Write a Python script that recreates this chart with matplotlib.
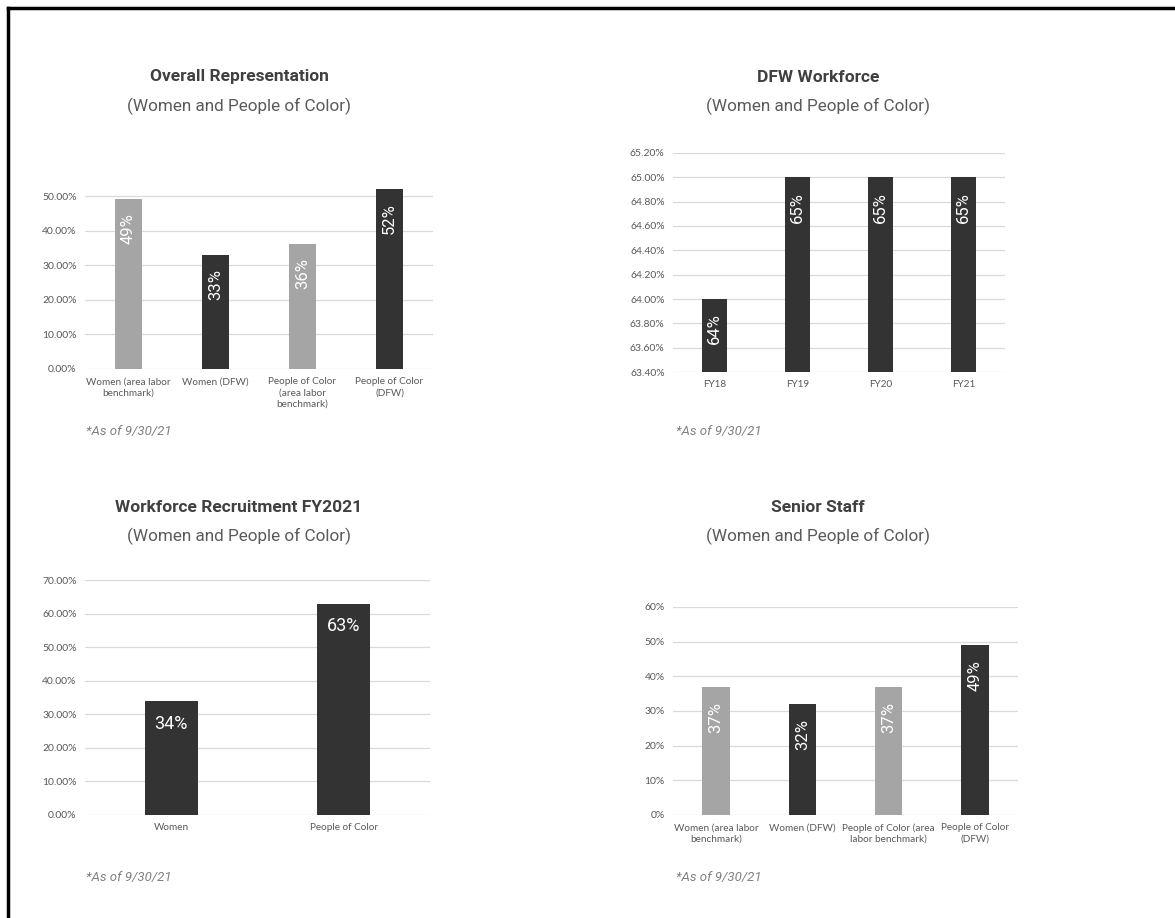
import numpy as np
import matplotlib
matplotlib.use("Agg")
import matplotlib.pyplot as plt
from matplotlib.lines import Line2D

# data
overall_cats = ["Women (area labor\nbenchmark)", "Women (DFW)",
                "People of Color\n(area labor\nbenchmark)", "People of Color\n(DFW)"]
overall_vals = [49, 33, 36, 52]

dfw_cats = ["FY18", "FY19", "FY20", "FY21"]
dfw_vals = [64.0, 65.0, 65.0, 65.0]
dfw_labels = ["64%", "65%", "65%", "65%"]

recruit_cats = ["Women", "People of Color"]
recruit_vals = [34, 63]

senior_cats = ["Women (area labor\nbenchmark)", "Women (DFW)",
               "People of Color (area\nlabor benchmark)", "People of Color\n(DFW)"]
senior_vals = [37, 32, 37, 49]

LIGHT = "#a5a5a5"
DARK = "#333333"
W, H = 1175, 918

fig = plt.figure(figsize=(W / 100, H / 100), dpi=100)
fig.patch.set_facecolor("white")


def px_axes(left, right, top, bottom):
    return fig.add_axes([left / W, 1 - bottom / H, (right - left) / W, (bottom - top) / H])


def style(ax, ticks, fmt):
    for s in ax.spines.values():
        s.set_visible(False)
    ax.set_yticks(ticks)
    ax.set_yticklabels([fmt(t) for t in ticks])
    ax.yaxis.grid(True, color="#d9d9d9", lw=0.9)
    ax.set_axisbelow(True)
    ax.tick_params(length=0, labelcolor="#595959", pad=6)
    ax.tick_params(axis="y", labelsize=7.5)
    ax.tick_params(axis="x", labelsize=7.2)
    for lab in ax.get_yticklabels() + ax.get_xticklabels():
        lab.set_family("Lato")


def titles(cx, y, title):
    fig.text(cx / W, 1 - y / H, title, ha="center", va="center", fontsize=12.5,
             fontweight="bold", color="#404040", family="Roboto")
    fig.text(cx / W, 1 - (y + 29) / H, "(Women and People of Color)", ha="center",
             va="center", fontsize=12.3, color="#5a5a5a", family="Roboto")


def footnote(x, y):
    fig.text(x / W, 1 - y / H, "*As of 9/30/21", ha="left", va="center", fontsize=9.5,
             style="italic", color="#808080", family="Roboto")


def vlabels(ax, x, vals, texts, off):
    for xi, v, t in zip(x, vals, texts):
        ax.annotate(t, (xi, v), xytext=(0, -off), textcoords="offset points",
                    rotation=90, ha="center", va="top", fontsize=12,
                    color="white", family="Roboto")


# panel 1
ax1 = px_axes(85, 433, 369 - 54 * 173 / 50, 369)
x = np.arange(len(overall_cats))
ax1.bar(x, overall_vals, width=0.32, color=[LIGHT, DARK, LIGHT, DARK])
ax1.set_xlim(-0.5, 3.5)
ax1.set_ylim(0, 54)
ax1.set_xticks(x)
ax1.set_xticklabels(overall_cats, linespacing=1.3)
style(ax1, np.arange(0, 51, 10), lambda t: f"{t:.2f}%")
vlabels(ax1, x, overall_vals, [f"{v}%" for v in overall_vals], 10)
titles(239, 77, "Overall Representation")
footnote(86, 432)

# panel 2
ax2 = px_axes(673, 1005, 153, 372)
x = np.arange(len(dfw_cats))
ax2.bar(x, dfw_vals, width=0.30, color=DARK)
ax2.set_xlim(-0.5, 3.5)
ax2.set_ylim(63.4, 65.2)
ax2.set_xticks(x)
ax2.set_xticklabels(dfw_cats)
style(ax2, np.arange(63.4, 65.21, 0.2), lambda t: f"{t:.2f}%")
vlabels(ax2, x, dfw_vals, dfw_labels, 10.5)
titles(818, 77, "DFW Workforce")
footnote(676, 432)

# panel 3
ax3 = px_axes(85, 430, 580, 815)
x = np.arange(len(recruit_cats))
ax3.bar(x, recruit_vals, width=0.31, color=DARK)
ax3.set_xlim(-0.5, 1.5)
ax3.set_ylim(0, 70)
ax3.set_xticks(x)
ax3.set_xticklabels(recruit_cats)
style(ax3, np.arange(0, 71, 10), lambda t: f"{t:.2f}%")
for xi, v in zip(x, recruit_vals):
    ax3.annotate(f"{v}%", (xi, v), xytext=(0, -10), textcoords="offset points",
                 ha="center", va="top", fontsize=13, color="white", family="Roboto")
titles(239, 507, "Workforce Recruitment FY2021")
footnote(86, 877)

# panel 4
ax4 = px_axes(673, 1018, 607, 815)
x = np.arange(len(senior_cats))
ax4.bar(x, senior_vals, width=0.32, color=[LIGHT, DARK, LIGHT, DARK])
ax4.set_xlim(-0.5, 3.5)
ax4.set_ylim(0, 60)
ax4.set_xticks(x)
ax4.set_xticklabels(senior_cats, linespacing=1.3)
style(ax4, np.arange(0, 61, 10), lambda t: f"{t:.0f}%")
vlabels(ax4, x, senior_vals, [f"{v}%" for v in senior_vals], 11)
titles(818, 507, "Senior Staff")
footnote(676, 877)

# frame lines on top and left
fig.add_artist(Line2D([8 / W, 1], [1 - 8 / H, 1 - 8 / H], color="black", lw=2.5))
fig.add_artist(Line2D([8 / W, 8 / W], [0, 1 - 8 / H], color="black", lw=2.5))

plt.savefig("out.png", dpi=100)
